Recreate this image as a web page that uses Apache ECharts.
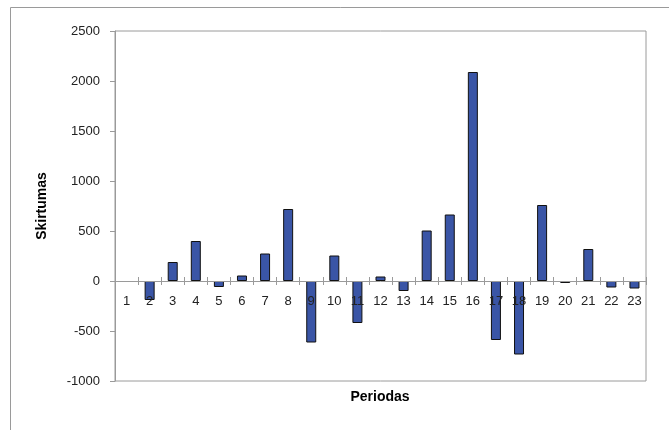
<!DOCTYPE html>
<html>
<head>
<meta charset="utf-8">
<script src="https://cdn.jsdelivr.net/npm/echarts@6/dist/echarts.min.js"></script>
<style>
  html, body { margin: 0; padding: 0; background: #fff; }
  #chart { width: 669px; height: 430px; }
</style>
</head>
<body>
<div id="chart"></div>
<script>
// Periods and the difference recorded for each one (period 1 has no value)
const periods = ['1','2','3','4','5','6','7','8','9','10','11','12','13','14','15','16','17','18','19','20','21','22','23'];
const differences = [null, -190, 190, 400, -60, 55, 275, 720, -615, 255, -420, 45, -100, 505, 665, 2090, -590, -735, 760, -20, 320, -65, -75];
const yTicks = { min: -1000, max: 2500, step: 500 };

const chart = echarts.init(document.getElementById('chart'));
const font = 'Liberation Sans, Arial, sans-serif';

// plot area: 350 px tall for -1000..2500, so the zero line sits 100 px above the bottom edge
const gridTop = 31, gridBottom = 49, plotHeight = 350;
const zeroFromBottom = plotHeight * (0 - yTicks.min) / (yTicks.max - yTicks.min);
const zeroFromTop = plotHeight - zeroFromBottom;

chart.setOption({
  animation: false,
  backgroundColor: '#ffffff',
  graphic: [{
    type: 'rect',
    shape: { x: 10.5, y: 7.5, width: 800, height: 600 },
    style: { fill: 'none', stroke: '#9a9a9a', lineWidth: 1 },
    silent: true
  }, {
    type: 'text',
    x: 380, y: 397,
    style: { text: 'Periodas', font: 'bold 14px ' + font, fill: '#000', align: 'center', verticalAlign: 'middle' },
    silent: true
  }],
  grid: {
    left: 115, right: 23, top: gridTop, bottom: gridBottom,
    show: true, borderColor: '#9a9a9a', borderWidth: 1, backgroundColor: 'transparent'
  },
  xAxis: [{
    // category axis drawn along the zero line, labels just below it
    type: 'category',
    data: periods,
    position: 'bottom',
    offset: -zeroFromBottom,
    axisLine: { onZero: false, lineStyle: { color: '#9a9a9a', width: 1 } },
    axisTick: { show: true, length: 4, lineStyle: { color: '#9a9a9a' } },
    axisLabel: { fontFamily: font, fontSize: 13, color: '#222', margin: 14 },
    z: 5
  }, {
    // upper half of the crossing tick marks on the zero line
    type: 'category',
    data: periods,
    position: 'top',
    offset: -zeroFromTop,
    axisLine: { onZero: false, show: false },
    axisTick: { show: true, length: 4, lineStyle: { color: '#9a9a9a' } },
    axisLabel: { show: false }
  }],
  yAxis: {
    type: 'value',
    min: yTicks.min, max: yTicks.max, interval: yTicks.step,
    name: 'Skirtumas',
    nameLocation: 'middle',
    nameGap: 66,
    nameRotate: 90,
    nameTextStyle: { fontFamily: font, fontSize: 14, fontWeight: 'bold', color: '#000' },
    axisLine: { show: true, lineStyle: { color: '#9a9a9a', width: 1 } },
    axisTick: { show: true, length: 5, lineStyle: { color: '#9a9a9a' } },
    axisLabel: { fontFamily: font, fontSize: 13, color: '#222', margin: 15, formatter: v => String(v) },
    splitLine: { show: false }
  },
  series: [{
    type: 'bar',
    data: differences,
    barWidth: 10,
    itemStyle: { color: '#3a55a6', borderColor: '#111', borderWidth: 1 }
  }]
});
</script>
</body>
</html>
